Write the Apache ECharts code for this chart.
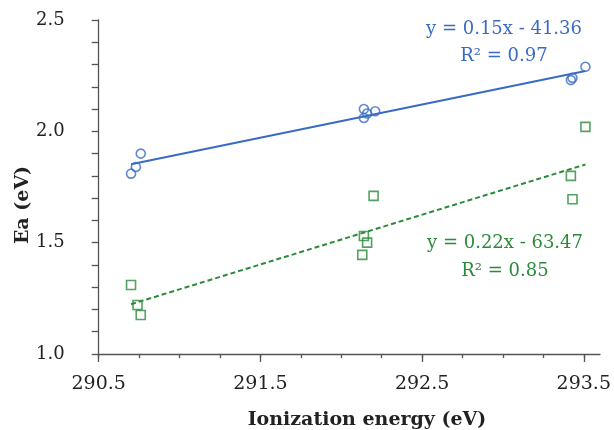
<!DOCTYPE html>
<html>
<head>
<meta charset="utf-8">
<script src="https://cdn.jsdelivr.net/npm/echarts@6/dist/echarts.min.js"></script>
<style>html,body{margin:0;padding:0;background:#fff}#c{width:614px;height:430px}</style>
</head>
<body>
<div id="c"></div>
<script>
// Data
const blueX = [290.70, 290.73, 290.76, 292.14, 292.16, 292.14, 292.21, 293.42, 293.43, 293.51];
const blueY = [1.81, 1.84, 1.90, 2.10, 2.08, 2.06, 2.09, 2.23, 2.24, 2.29];
const greenX = [290.70, 290.74, 290.76, 292.20, 292.14, 292.16, 292.13, 293.51, 293.42, 293.43];
const greenY = [1.31, 1.22, 1.175, 1.71, 1.53, 1.50, 1.445, 2.02, 1.80, 1.695];
const xMajorTicks = [290.5, 291.5, 292.5, 293.5];
const xMinorTicks = [290.5, 290.75, 291.0, 291.25, 291.5, 291.75, 292.0, 292.25, 292.5, 292.75, 293.0, 293.25, 293.5];
const yMajorTicks = [1.0, 1.5, 2.0, 2.5];
const yMinorTicks = [1.0, 1.1, 1.2, 1.3, 1.4, 1.5, 1.6, 1.7, 1.8, 1.9, 2.0, 2.1, 2.2, 2.3, 2.4, 2.5];
const blueEq = ['y = 0.15x - 41.36', 'R² = 0.97'];
const greenEq = ['y = 0.22x - 63.47', 'R² = 0.85'];
const xTitle = 'Ionization energy (eV)';
const yTitle = 'Ea (eV)';

function pairs(xs, ys) { return xs.map((x, i) => [x, ys[i]]); }
function fit(xs, ys) {
  const n = xs.length;
  const mx = xs.reduce((a, b) => a + b, 0) / n;
  const my = ys.reduce((a, b) => a + b, 0) / n;
  let sxy = 0, sxx = 0;
  for (let i = 0; i < n; i++) { sxy += (xs[i] - mx) * (ys[i] - my); sxx += (xs[i] - mx) ** 2; }
  const b = sxy / sxx, a = my - b * mx;
  const x0 = Math.min(...xs), x1 = Math.max(...xs);
  return [[x0, a + b * x0], [x1, a + b * x1]];
}

const BLUE = '#3A6BC4';
const GREEN = '#2B8A3B';
const AXIS = '#555555';
const FONT = 'DejaVu Serif';

const chart = echarts.init(document.getElementById('c'), null, { renderer: 'canvas' });
chart.setOption({
  animation: false,
  backgroundColor: '#ffffff',
  grid: { left: 98.7, right: 10.6, top: 20, bottom: 76 },
  xAxis: [{
    type: 'value', min: 290.5, max: 293.6,
    axisLine: { show: true, lineStyle: { color: AXIS, width: 1.3 } },
    axisTick: { show: true, length: 4, customValues: xMinorTicks, lineStyle: { color: AXIS, width: 1.3 } },
    axisLabel: { customValues: xMajorTicks, margin: 21, color: '#222', fontFamily: FONT, fontSize: 19, formatter: v => v.toFixed(1) },
    splitLine: { show: false }
  }, {
    type: 'value', min: 290.5, max: 293.6, position: 'bottom',
    axisLine: { show: false },
    axisTick: { show: true, length: 8, customValues: xMajorTicks, lineStyle: { color: AXIS, width: 1.3 } },
    axisLabel: { show: false },
    splitLine: { show: false }
  }],
  yAxis: {
    type: 'value', min: 1.0, max: 2.5,
    axisLine: { show: true, lineStyle: { color: AXIS, width: 1.3 } },
    axisTick: { show: true, length: 7, customValues: yMinorTicks, lineStyle: { color: AXIS, width: 1.3 } },
    axisLabel: { customValues: yMajorTicks, margin: 34, color: '#222', fontFamily: FONT, fontSize: 18, formatter: v => v.toFixed(1) },
    splitLine: { show: false }
  },
  series: [
    { type: 'line', data: fit(blueX, blueY), symbol: 'none', lineStyle: { color: BLUE, width: 2 }, z: 2 },
    { type: 'line', data: fit(greenX, greenY), symbol: 'none', lineStyle: { color: GREEN, width: 2, type: [5, 3] }, z: 2 },
    { type: 'scatter', data: pairs(blueX, blueY), symbol: 'circle', symbolSize: 9,
      itemStyle: { color: 'rgba(255,255,255,0)', borderColor: BLUE, borderWidth: 1.6 }, z: 3 },
    { type: 'scatter', data: pairs(greenX, greenY), symbol: 'rect', symbolSize: 9,
      itemStyle: { color: 'rgba(255,255,255,0)', borderColor: GREEN, borderWidth: 1.6 }, z: 3 }
  ],
  graphic: [
    { type: 'text', x: 504, y: 29, style: { text: blueEq[0], fill: BLUE, font: '18px "' + FONT + '"', align: 'center', verticalAlign: 'middle' } },
    { type: 'text', x: 504, y: 56, style: { text: blueEq[1], fill: BLUE, font: '18px "' + FONT + '"', align: 'center', verticalAlign: 'middle' } },
    { type: 'text', x: 505, y: 243, style: { text: greenEq[0], fill: GREEN, font: '18px "' + FONT + '"', align: 'center', verticalAlign: 'middle' } },
    { type: 'text', x: 505, y: 271, style: { text: greenEq[1], fill: GREEN, font: '18px "' + FONT + '"', align: 'center', verticalAlign: 'middle' } },
    { type: 'text', x: 367, y: 420, style: { text: xTitle, fill: '#222', font: 'bold 19px "' + FONT + '"', align: 'center', verticalAlign: 'middle' } },
    { type: 'text', x: 23, y: 205, rotation: Math.PI / 2, style: { text: yTitle, fill: '#222', font: 'bold 19px "' + FONT + '"', align: 'center', verticalAlign: 'middle' } }
  ]
});
</script>
</body>
</html>
